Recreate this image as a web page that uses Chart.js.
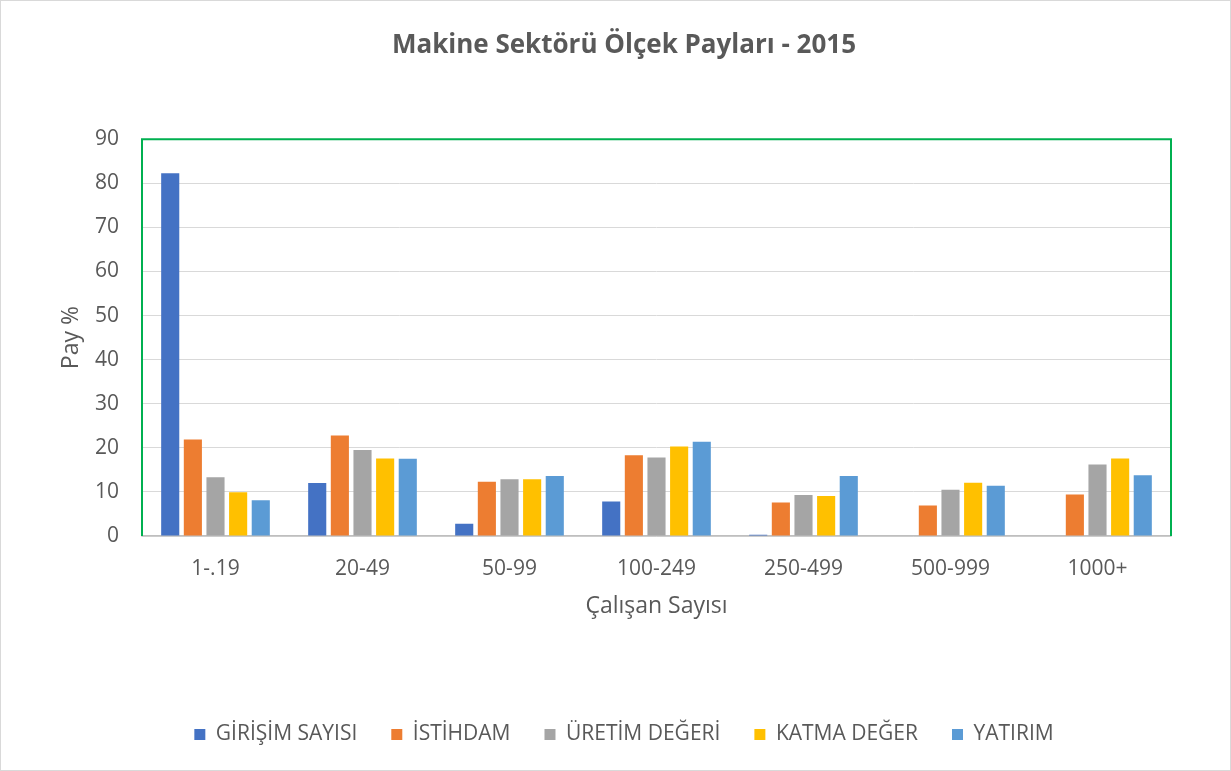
<!DOCTYPE html>
<html lang="tr">
<head>
<meta charset="utf-8">
<title>Makine Sektörü Ölçek Payları - 2015</title>
<script src="https://cdn.jsdelivr.net/npm/chart.js@4.4.1/dist/chart.umd.min.js"></script>
<style>
    html, body { margin: 0; padding: 0; background: #ffffff; }
    #wrap { position: absolute; left: 0; top: 0; width: 1229px; height: 769px; border: 1px solid #d9d9d9; }
    canvas { display: block; }
</style>
</head>
<body>
<div id="wrap"><canvas id="scaleChart" width="1229" height="769"></canvas></div>
<script>
// 차트 데이터
const categories = ['1-.19', '20-49', '50-99', '100-249', '250-499', '500-999', '1000+'];
const seriesNames = ['GİRİŞİM SAYISI', 'İSTİHDAM', 'ÜRETİM DEĞERİ', 'KATMA DEĞER', 'YATIRIM'];
const girisimSayisi = [82.3, 12.0, 2.8, 7.8, 0.3, 0, 0];
const istihdam = [21.9, 22.8, 12.3, 18.3, 7.6, 6.9, 9.4];
const uretimDegeri = [13.3, 19.5, 12.9, 17.8, 9.3, 10.5, 16.2];
const katmaDeger = [9.9, 17.6, 12.9, 20.3, 9.1, 12.1, 17.6];
const yatirim = [8.1, 17.5, 13.6, 21.4, 13.6, 11.4, 13.8];
const yTicks = [0, 10, 20, 30, 40, 50, 60, 70, 80, 90];

const seriesColors = ['#4472C4', '#ED7D31', '#A5A5A5', '#FFC000', '#5B9BD5'];
const textColor = '#595959';
const fontFamily = "'Open Sans', 'Noto Sans', sans-serif";

let scaleChart = null;

// 플롯 영역 초록 테두리
const plotBorder = {
    id: 'plotBorder',
    afterDatasetsDraw(chart) {
        const { ctx, chartArea } = chart;
        ctx.save();
        ctx.strokeStyle = '#00B050';
        ctx.lineWidth = 2;
        ctx.beginPath();
        ctx.moveTo(chartArea.left, chartArea.bottom);
        ctx.lineTo(chartArea.left, chartArea.top);
        ctx.lineTo(chartArea.right, chartArea.top);
        ctx.lineTo(chartArea.right, chartArea.bottom);
        ctx.stroke();
        ctx.restore();
    }
};

document.addEventListener('DOMContentLoaded', function() {
    initializeChart();
});

function initializeChart() {
    const values = [girisimSayisi, istihdam, uretimDegeri, katmaDeger, yatirim];
    const datasets = seriesNames.map((name, i) => ({
        label: name,
        data: values[i],
        backgroundColor: seriesColors[i],
        borderWidth: 0,
        categoryPercentage: 0.77,
        barPercentage: 0.8
    }));

    const ctx = document.getElementById('scaleChart').getContext('2d');
    scaleChart = new Chart(ctx, {
        type: 'bar',
        data: { labels: categories, datasets: datasets },
        plugins: [plotBorder],
        options: {
            responsive: false,
            animation: false,
            layout: { padding: { left: 17, right: 0, top: 0, bottom: 15 } },
            plugins: {
                title: {
                    display: true,
                    text: 'Makine Sektörü Ölçek Payları - 2015',
                    color: textColor,
                    font: { family: fontFamily, size: 26, weight: 'bold' },
                    padding: { top: 29, bottom: 78 }
                },
                legend: {
                    position: 'bottom',
                    labels: {
                        color: textColor,
                        font: { family: fontFamily, size: 21 },
                        boxWidth: 11,
                        boxHeight: 11,
                        padding: 34
                    }
                },
                tooltip: { enabled: false }
            },
            scales: {
                x: {
                    afterFit: scale => { scale.height = 154; },
                    grid: { display: false, drawTicks: false },
                    border: { display: true, color: '#bfbfbf', width: 1.5 },
                    ticks: {
                        color: textColor,
                        font: { family: fontFamily, size: 21 },
                        padding: 20
                    },
                    title: {
                        display: true,
                        text: 'Çalışan Sayısı',
                        color: textColor,
                        font: { family: fontFamily, size: 23 },
                        padding: { top: 0, bottom: 70 }
                    }
                },
                y: {
                    min: 0,
                    max: 90,
                    afterFit: scale => { scale.width = 124; },
                    afterBuildTicks: scale => { scale.ticks = yTicks.map(v => ({ value: v })); },
                    grid: { color: '#d9d9d9', lineWidth: 1, drawTicks: false },
                    border: { display: false },
                    ticks: {
                        color: textColor,
                        font: { family: fontFamily, size: 21 },
                        padding: 23
                    },
                    title: {
                        display: true,
                        text: 'Pay %',
                        color: textColor,
                        font: { family: fontFamily, size: 23 },
                        padding: { top: 40, bottom: 0 }
                    }
                },
                // 오른쪽 여백용 빈 축
                yRight: {
                    position: 'right',
                    afterFit: scale => { scale.width = 59; },
                    grid: { display: false, drawTicks: false },
                    border: { display: false },
                    ticks: { display: false }
                }
            }
        }
    });
}
</script>
</body>
</html>
